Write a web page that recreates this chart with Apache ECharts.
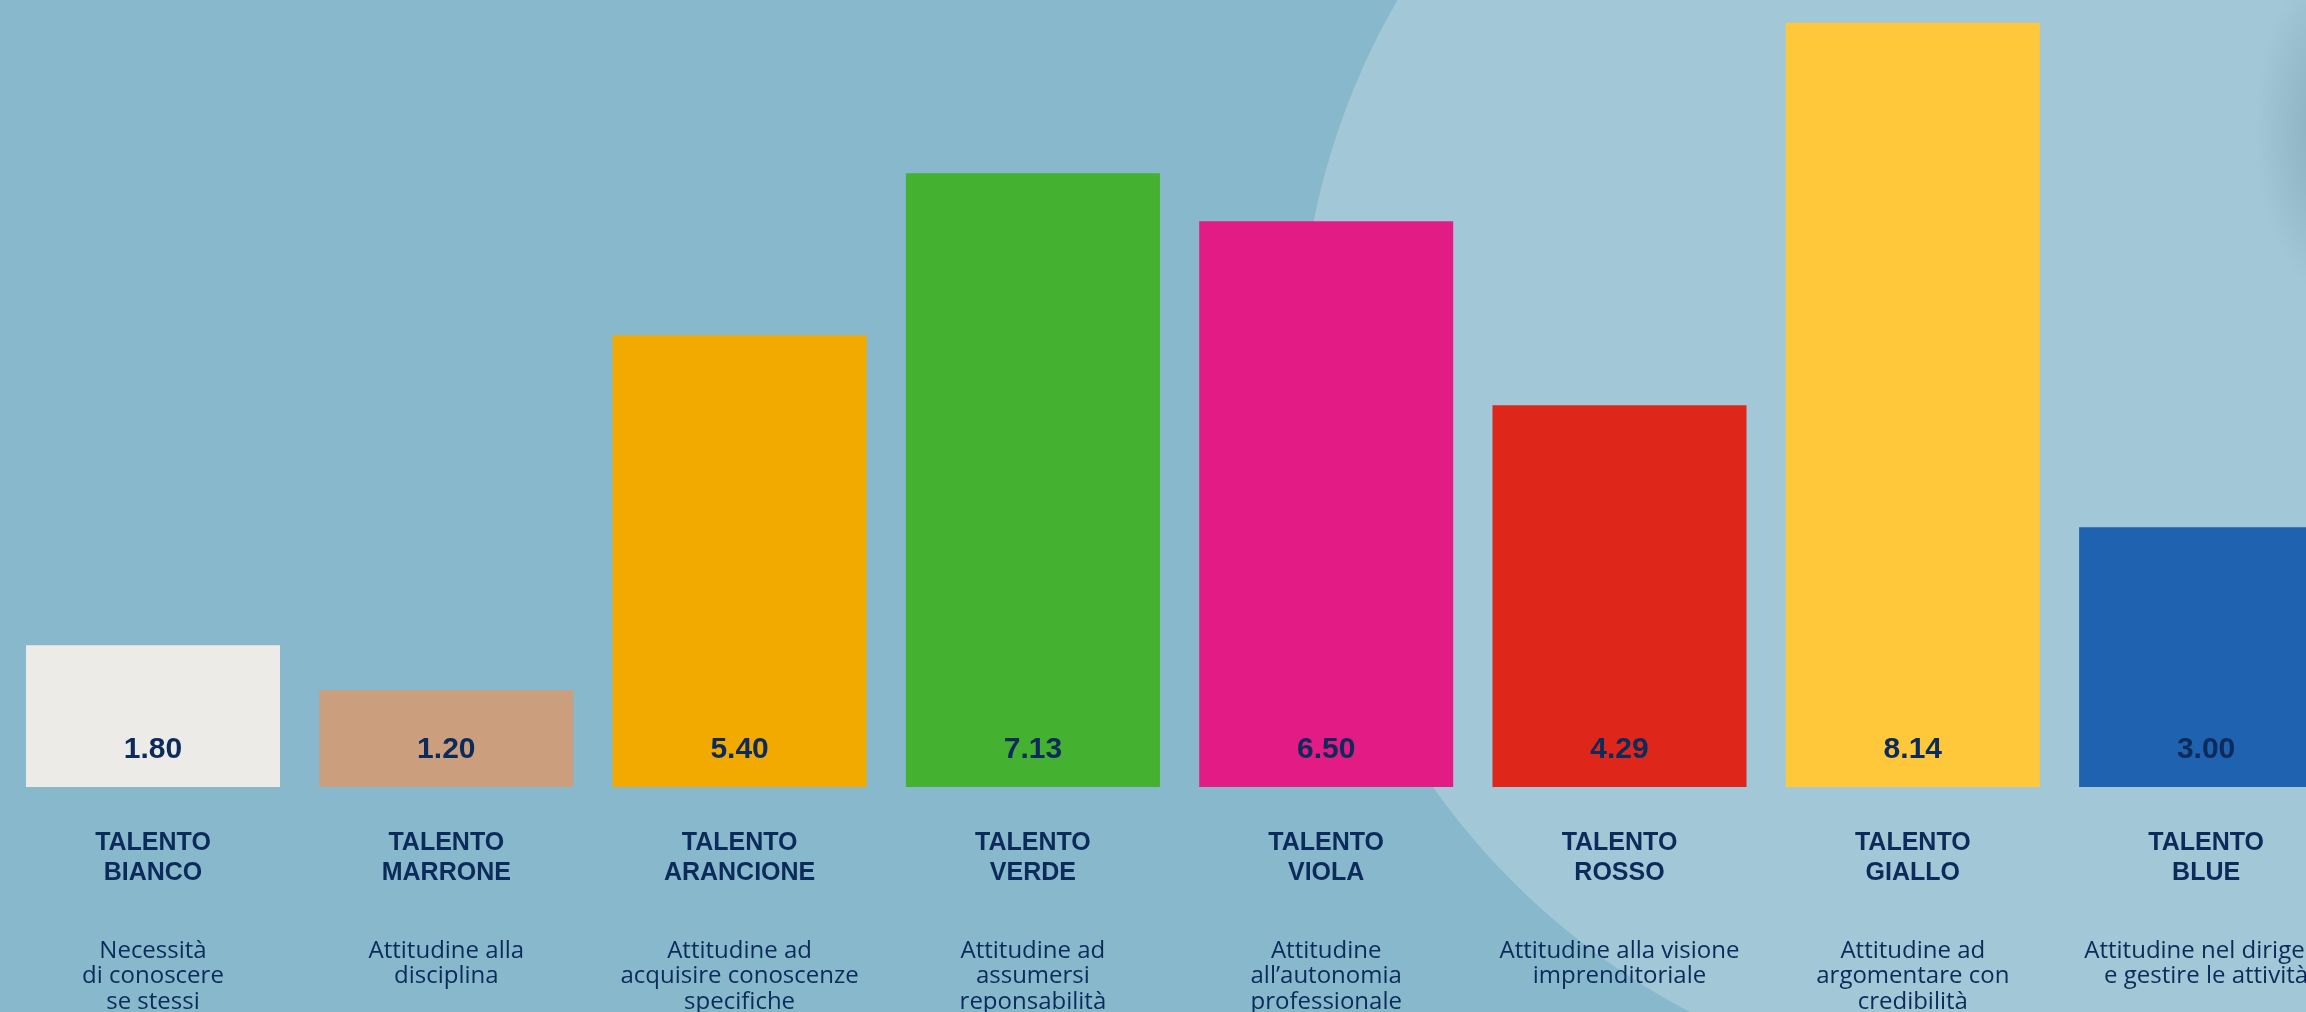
<!DOCTYPE html>
<html>
<head>
<meta charset="utf-8">
<style>
  html, body { margin: 0; padding: 0; background: #87B8CC; }
  #chart { width: 2306px; height: 1012px; }
</style>
<script src="https://cdn.jsdelivr.net/npm/echarts@6/dist/echarts.min.js"></script>
</head>
<body>
<div id="chart"></div>
<script>
// Category titles
var titles = [
  'TALENTO\nBIANCO', 'TALENTO\nMARRONE', 'TALENTO\nARANCIONE', 'TALENTO\nVERDE',
  'TALENTO\nVIOLA', 'TALENTO\nROSSO', 'TALENTO\nGIALLO', 'TALENTO\nBLUE'
];
// Category descriptions
var descriptions = [
  'Necessità\ndi conoscere\nse stessi',
  'Attitudine alla\ndisciplina',
  'Attitudine ad\nacquisire conoscenze\nspecifiche',
  'Attitudine ad\nassumersi\nreponsabilità',
  'Attitudine\nall\u2019autonomia\nprofessionale',
  'Attitudine alla visione\nimprenditoriale',
  'Attitudine ad\nargomentare con\ncredibilità',
  'Attitudine nel dirigere\ne gestire le attività'
];
// Printed values
var valueLabels = ['1.80', '1.20', '5.40', '7.13', '6.50', '4.29', '8.14', '3.00'];
// Bar lengths as drawn in the picture (on a 0-10 scale)
var barLengths = [1.80, 1.23, 5.74, 7.80, 7.19, 4.85, 9.71, 3.30];
// Bar colours
var barColors = ['#EDEBE7', '#CB9E7E', '#F2AA00', '#45B130', '#E31B84', '#DE261A', '#FFC83A', '#1F62AF'];

var navy = '#0C2B5A';
var chart = echarts.init(document.getElementById('chart'), null, { renderer: 'canvas' });

var option = {
  backgroundColor: '#87B8CC',
  animation: false,
  graphic: {
    elements: [
      {
        type: 'circle',
        z: -10,
        silent: true,
        shape: { cx: 2028, cy: 366, r: 729 },
        style: { fill: '#A2C7D6' }
      },
      {
        type: 'circle',
        z: -9,
        silent: true,
        x: 2340, y: 130,
        scaleY: 2.0,
        shape: { cx: 0, cy: 0, r: 85 },
        style: {
          fill: {
            type: 'radial', x: 0.5, y: 0.5, r: 0.5,
            colorStops: [
              { offset: 0, color: 'rgba(70,110,130,0.32)' },
              { offset: 0.5, color: 'rgba(70,110,130,0.16)' },
              { offset: 1, color: 'rgba(70,110,130,0)' }
            ]
          }
        }
      }
    ]
  },
  grid: {
    left: 6.35, width: 2346.4, top: 0, bottom: 225,
    containLabel: false, outerBoundsMode: 'none'
  },
  xAxis: [
    {
      type: 'category',
      data: titles,
      position: 'bottom',
      axisLine: { show: false },
      axisTick: { show: false },
      axisLabel: {
        interval: 0,
        margin: 41,
        color: navy,
        fontFamily: 'Liberation Sans, Arial, sans-serif',
        fontWeight: 'bold',
        fontSize: 25,
        lineHeight: 30
      }
    },
    {
      type: 'category',
      data: descriptions,
      position: 'bottom',
      axisLine: { show: false },
      axisTick: { show: false },
      axisLabel: {
        interval: 0,
        margin: 151,
        color: navy,
        fontFamily: 'Open Sans, sans-serif',
        fontSize: 24,
        lineHeight: 25.5
      }
    }
  ],
  yAxis: { type: 'value', min: 0, max: 10, show: false },
  series: [
    {
      type: 'bar',
      xAxisIndex: 0,
      barWidth: 254,
      data: barLengths.map(function (v, i) {
        return { value: v, itemStyle: { color: barColors[i] } };
      }),
      label: {
        show: true,
        position: 'insideBottom',
        distance: 22,
        formatter: function (p) { return valueLabels[p.dataIndex]; },
        color: navy,
        fontFamily: 'Liberation Sans, Arial, sans-serif',
        fontWeight: 'bold',
        fontSize: 30,
        lineHeight: 30
      }
    }
  ]
};
chart.setOption(option);
</script>
</body>
</html>
